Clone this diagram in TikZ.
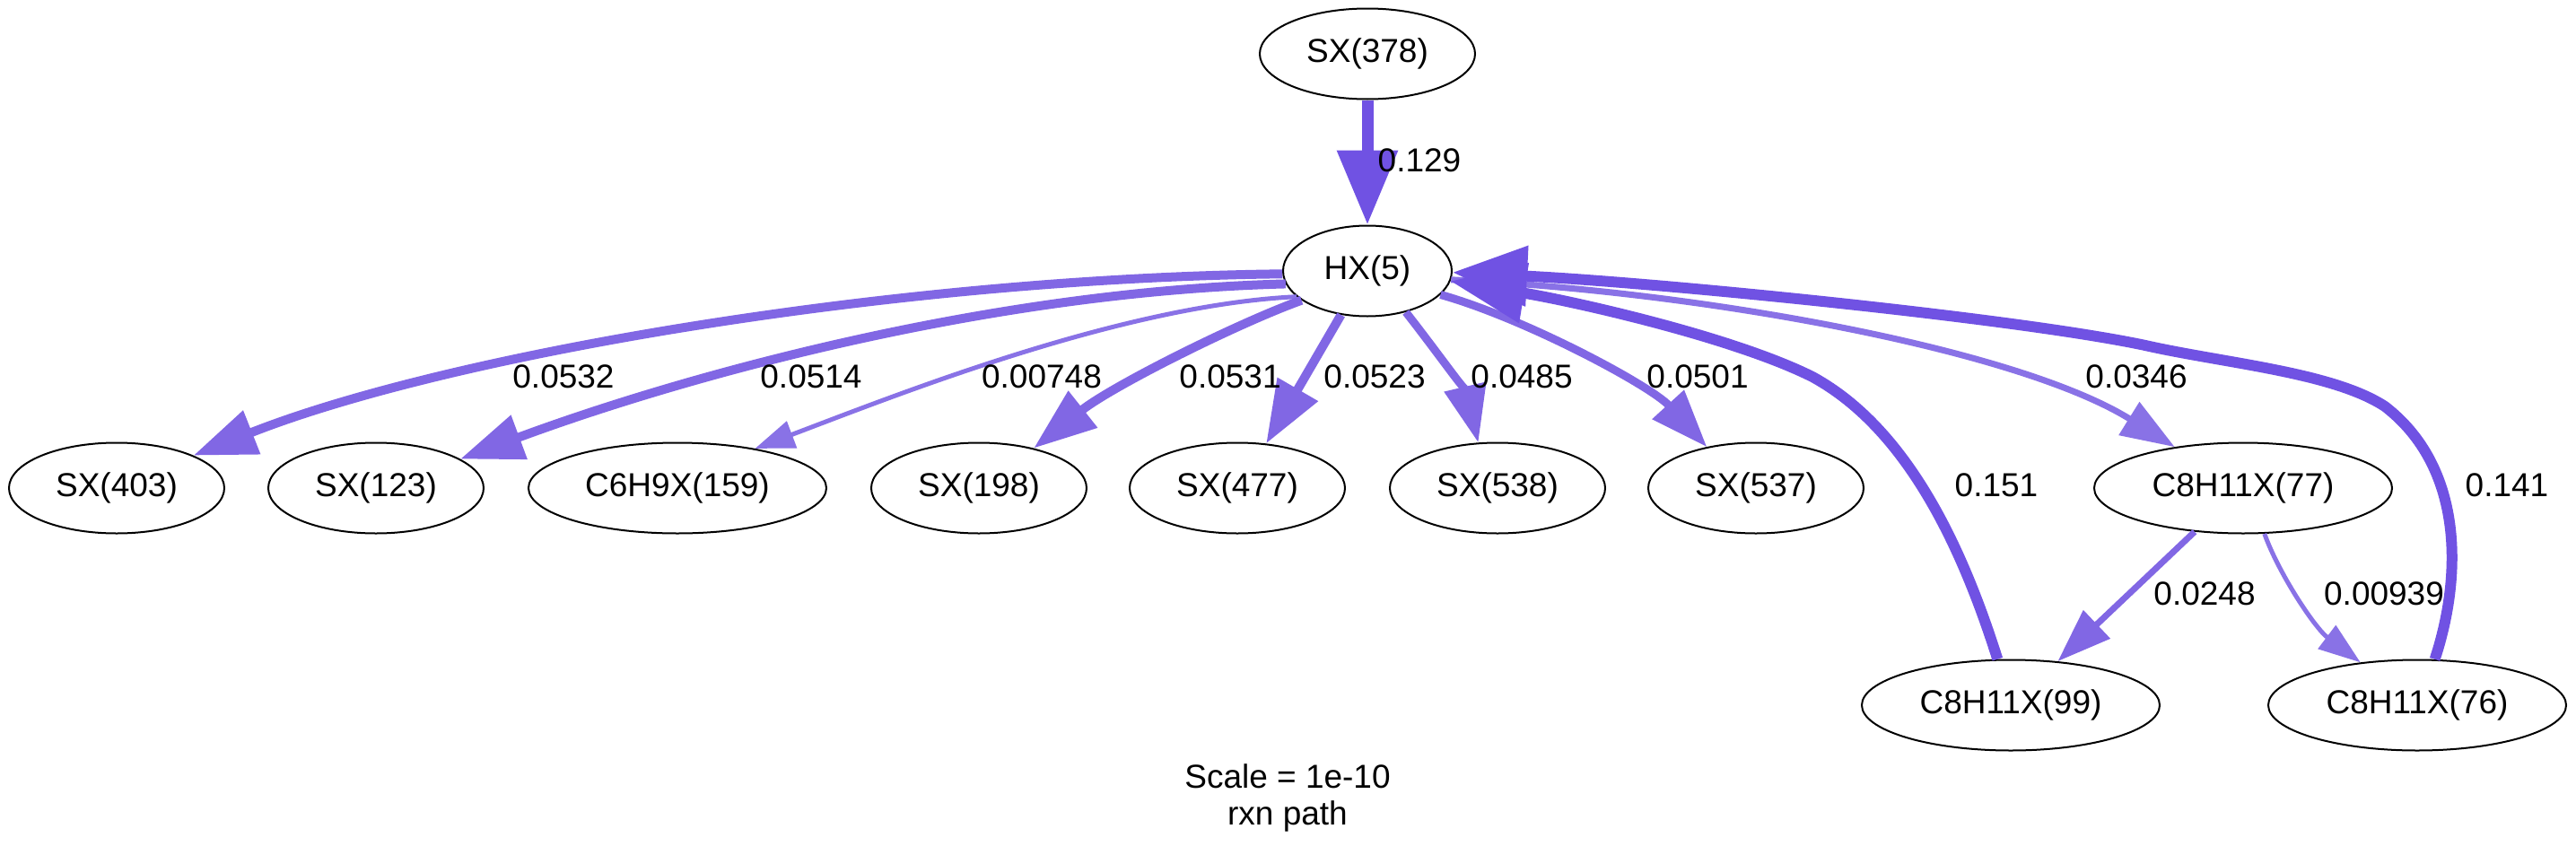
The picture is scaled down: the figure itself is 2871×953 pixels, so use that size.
\documentclass[tikz,border=0pt]{standalone}
\usepackage{fontspec}
\setmainfont{Liberation Sans}
\usetikzlibrary{arrows.meta,shapes.geometric}
\definecolor{edark}{RGB}{112,82,227}
\definecolor{emid}{RGB}{129,103,228}
\definecolor{elight}{RGB}{137,114,230}
\begin{document}
\begin{tikzpicture}[x=0.5pt,y=-0.5pt,
  sp/.style={draw=black,line width=1pt,ellipse,inner sep=0pt,minimum height=50.5pt,font=\fontsize{18.5}{22}\selectfont},
  spS/.style={sp,minimum width=120pt},
  spH/.style={sp,minimum width=94pt},
  spC/.style={sp,minimum width=166pt},
  lbl/.style={font=\fontsize{18.5}{22}\selectfont,inner sep=0pt},
  tipbig/.style={-{Triangle[length=41.5pt,width=32.5pt]}},
  tipmid/.style={-{Triangle[length=35pt,width=25pt]}},
  tipmed/.style={-{Triangle[length=32pt,width=23pt]}},
  tipsm/.style={-{Triangle[length=30pt,width=21pt]}},
  tipxs/.style={-{Triangle[length=22pt,width=15.5pt]}}
]
\useasboundingbox (0,0) rectangle (2871,953);
% nodes
\node[spS] (sx378) at (1524,60) {SX(378)};
\node[spH] (hx) at (1524,302) {HX(5)};
\node[spS] (sx403) at (130,544) {SX(403)};
\node[spS] (sx123) at (419,544) {SX(123)};
\node[spC] (c6) at (755,544) {C6H9X(159)};
\node[spS] (sx198) at (1091,544) {SX(198)};
\node[spS] (sx477) at (1379,544) {SX(477)};
\node[spS] (sx538) at (1669,544) {SX(538)};
\node[spS] (sx537) at (1957,544) {SX(537)};
\node[spC] (c77) at (2500,544) {C8H11X(77)};
\node[spC] (c99) at (2241,786) {C8H11X(99)};
\node[spC] (c76) at (2694,786) {C8H11X(76)};
% edges
\draw[edark,line width=6.5pt,tipbig] (sx378.south) -- (hx.north);
\draw[emid,line width=5pt,tipmid] (hx.182) .. controls (1000,310) and (500,395) .. (sx403.23);
\draw[emid,line width=5pt,tipmid] (hx.189) .. controls (1100,325) and (760,420) .. (sx123.19);
\draw[elight,line width=2.5pt,tipxs] (hx.200) .. controls (1250,340) and (1000,440) .. (c6.27);
\draw[emid,line width=5pt,tipmid] (hx.204) .. controls (1380,360) and (1240,430) .. (sx198.36);
\draw[emid,line width=5pt,tipmid] (hx.239) -- (sx477.57);
\draw[emid,line width=4.5pt,tipmed] (hx.313) .. controls (1600,390) and (1635,440) .. (sx538.113);
\draw[emid,line width=4.5pt,tipmed] (hx.342) .. controls (1700,355) and (1840,430) .. (sx537.140);
\draw[elight,line width=3.5pt,tipsm] (hx.354) .. controls (1900,325) and (2250,390) .. (c77.149);
\draw[edark,line width=6pt,tipbig] (c99.106) .. controls (2190,620) and (2130,480) .. (2020,420)
   .. controls (1930,375) and (1750,335) .. (hx.-7);
\draw[edark,line width=6pt,tipbig] (c76.69) .. controls (2745,640) and (2745,520) .. (2658,453)
   .. controls (2600,415) and (2480,405) .. (2391,385)
   .. controls (2250,355) and (1850,315) .. (hx.-1);
\draw[emid,line width=3.5pt,tipsm] (c77.222) -- (c99.43);
\draw[elight,line width=2.5pt,-{Triangle[length=23.5pt,width=16pt]}] (c77.-65) .. controls (2540,640) and (2580,700) .. (c76.143);
% edge labels
\node[lbl] (l1) at (1582,179) {0.129};
\node[lbl] (l2) at (628,420) {0.0532};
\node[lbl] (l3) at (904,420) {0.0514};
\node[lbl] (l4) at (1161,420) {0.00748};
\node[lbl] (l5) at (1371,420) {0.0531};
\node[lbl] (l6) at (1532,420) {0.0523};
\node[lbl] (l7) at (1696,420) {0.0485};
\node[lbl] (l8) at (1892,420) {0.0501};
\node[lbl] (l9) at (2381,420) {0.0346};
\node[lbl] (l10) at (2225,541) {0.151};
\node[lbl] (l11) at (2794,541) {0.141};
\node[lbl] (l12) at (2457,662) {0.0248};
\node[lbl] (l13) at (2657,662) {0.00939};
\node[lbl,anchor=base] (cap1) at (1435,878) {Scale = 1e-10};
\node[lbl,anchor=base] (cap2) at (1435,919) {rxn path};
\end{tikzpicture}
\end{document}
